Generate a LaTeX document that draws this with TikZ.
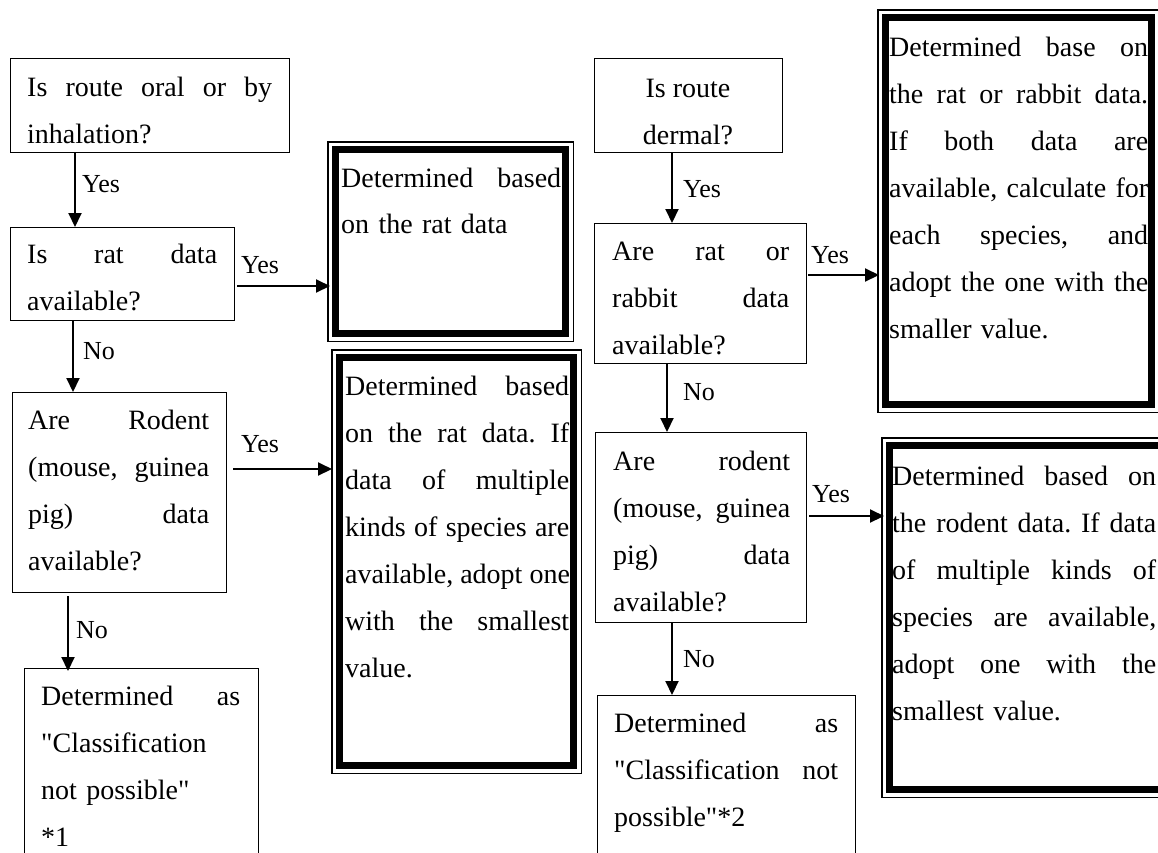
\documentclass[tikz,border=0pt]{standalone}
\usepackage{fontspec}
\newfontfamily\tnr{Liberation Serif}
\usetikzlibrary{arrows.meta,calc}
\tikzset{
 box/.style={draw, line width=1.1pt, inner sep=0pt, anchor=north west},
 dbox/.style={inner sep=0pt, anchor=north west},
 txt/.style={inner sep=0pt, anchor=north west, align=left, font=\tnr\fontsize{28}{47}\selectfont},
 txtc/.style={inner sep=0pt, anchor=north, align=center, font=\tnr\fontsize{28}{47}\selectfont},
 lbl/.style={inner sep=0pt, anchor=base west, font=\tnr\fontsize{26}{30}\selectfont},
 arr/.style={line width=2pt, -{Triangle[length=14pt,width=13pt]}},
 thinframe/.style={line width=1.4pt},
 thickframe/.style={line width=7pt},
}
\newcommand{\jl}[2]{\leavevmode\hbox to #1pt{\spaceskip=0.25em plus 1fil\relax #2}}
\newcommand{\fs}{\leavevmode\rule{0pt}{20pt}}
\newcommand{\dframe}[1]{%
 \draw[thinframe] (#1.north west) rectangle (#1.south east);
 \draw[thickframe] ([shift={(7.5,7.5)}]#1.north west) rectangle ([shift={(-7.5,-7.5)}]#1.south east);}
\frenchspacing
\begin{document}
\begin{tikzpicture}[x=1pt,y=-1pt]
\useasboundingbox (0,0) rectangle (1158,852);
\clip (0,0) rectangle (1158,852);
\fill[white] (0,0) rectangle (1158,852);

% ---------- left column ----------
\node[box, minimum width=279pt, minimum height=94pt] (A) at (10,58) {};
\node[txt, text width=245pt] (At) at (27,76) {\fs\jl{245}{Is route oral or by}\\inhalation?};

\node[box, minimum width=224pt, minimum height=93pt] (B) at (10,227) {};
\node[txt, text width=190pt] (Bt) at (27,243) {\fs\jl{190}{Is rat data}\\available?};

\node[box, minimum width=214pt, minimum height=200pt] (D) at (12,392) {};
\node[txt, text width=181pt] (Dt) at (28,409) {\fs\jl{181}{Are Rodent}\\\jl{181}{(mouse, guinea}\\\jl{181}{pig) data}\\available?};

\node[box, minimum width=234pt, minimum height=250pt] (F) at (24,668) {};
\node[txt, text width=199pt] (Ft) at (41,685) {\fs\jl{199}{Determined as}\\"Classification\\not possible"\\{*1}};

% ---------- middle column ----------
\node[dbox, minimum width=245pt, minimum height=199pt] (C) at (328,142) {};
\dframe{C}
\node[txt, text width=220pt, font=\tnr\fontsize{28}{46}\selectfont] (Ct) at (341,167) {\fs\jl{220}{Determined based}\\on the rat data};

\node[dbox, minimum width=249pt, minimum height=423pt] (E) at (332,350) {};
\dframe{E}
\node[txt, text width=224pt] (Et) at (345,375) {\fs\jl{224}{Determined based}\\\jl{224}{on the rat data. If}\\\jl{224}{data of multiple}\\\jl{224}{kinds of species are}\\\jl{224}{available, adopt one}\\\jl{224}{with the smallest}\\value.};

% ---------- right column ----------
\node[box, minimum width=188pt, minimum height=94pt] (P) at (594,58) {};
\node[txtc] (Pt) at (688,77) {\fs Is route\\dermal?};

\node[box, minimum width=212pt, minimum height=140pt] (Q) at (594,223) {};
\node[txt, text width=177pt] (Qt) at (612,240) {\fs\jl{177}{Are rat or}\\\jl{177}{rabbit data}\\available?};

\node[box, minimum width=211pt, minimum height=190pt] (S) at (595,432) {};
\node[txt, text width=177pt] (St) at (613,450) {\fs\jl{177}{Are rodent}\\\jl{177}{(mouse, guinea}\\\jl{177}{pig) data}\\available?};

\node[box, minimum width=258pt, minimum height=250pt] (H) at (597,695) {};
\node[txt, text width=224pt] (Ht) at (614,712) {\fs\jl{224}{Determined as}\\\jl{224}{"Classification not}\\possible"*2};

\node[dbox, minimum width=281pt, minimum height=402pt] (R) at (878,10) {};
\dframe{R}
\node[txt, text width=259pt] (Rt) at (889,36) {\fs\jl{259}{Determined base on}\\\jl{259}{the rat or rabbit data.}\\\jl{259}{If both data are}\\\jl{259}{available, calculate for}\\\jl{259}{each species, and}\\\jl{259}{adopt the one with the}\\smaller value.};

\node[dbox, minimum width=294pt, minimum height=359pt] (G) at (882,438) {};
\dframe{G}
\node[txt, text width=264pt] (Gt) at (892,465) {\fs\jl{264}{Determined based on}\\\jl{264}{the rodent data. If data}\\\jl{264}{of multiple kinds of}\\\jl{264}{species are available,}\\\jl{264}{adopt one with the}\\smallest value.};

% ---------- connectors ----------
\draw[arr] ([xshift=65pt]A.south west) -- ([xshift=65pt]A.south west |- B.north);
\node[lbl] (l1) at (82,192) {Yes};
\draw[arr] ([shift={(2,59)}]B.north east) -- ([shift={(2,59)}]B.north east -| C.west);
\node[lbl] (l2) at (241,273) {Yes};
\draw[arr] ([xshift=63pt]B.south west) -- ([xshift=63pt]B.south west |- D.north);
\node[lbl] (l3) at (83,359) {No};
\draw[arr, shorten >=6pt] ([shift={(6,77)}]D.north east) -- ([shift={(6,77)}]D.north east -| E.west);
\node[lbl] (l4) at (241,452) {Yes};
\draw[arr] ([shift={(56,3)}]D.south west) -- ([shift={(56,3)}]D.south west |- F.north);
\node[lbl] (l5) at (76,638) {No};

\draw[arr] ([xshift=78pt]P.south west) -- ([xshift=78pt]P.south west |- Q.north);
\node[lbl] (l6) at (683,197) {Yes};
\draw[arr] ([shift={(1,52)}]Q.north east) -- ([shift={(1,52)}]Q.north east -| R.west);
\node[lbl] (l7) at (811,263) {Yes};
\draw[arr] ([xshift=73pt]Q.south west) -- ([xshift=73pt]Q.south west |- S.north);
\node[lbl] (l8) at (683,400) {No};
\draw[arr] ([shift={(2,84)}]S.north east) -- ([shift={(2,84)}]S.north east -| G.west);
\node[lbl] (l9) at (812,502) {Yes};
\draw[arr] ([xshift=77pt]S.south west) -- ([xshift=77pt]S.south west |- H.north);
\node[lbl] (l10) at (683,667) {No};
\end{tikzpicture}
\end{document}
